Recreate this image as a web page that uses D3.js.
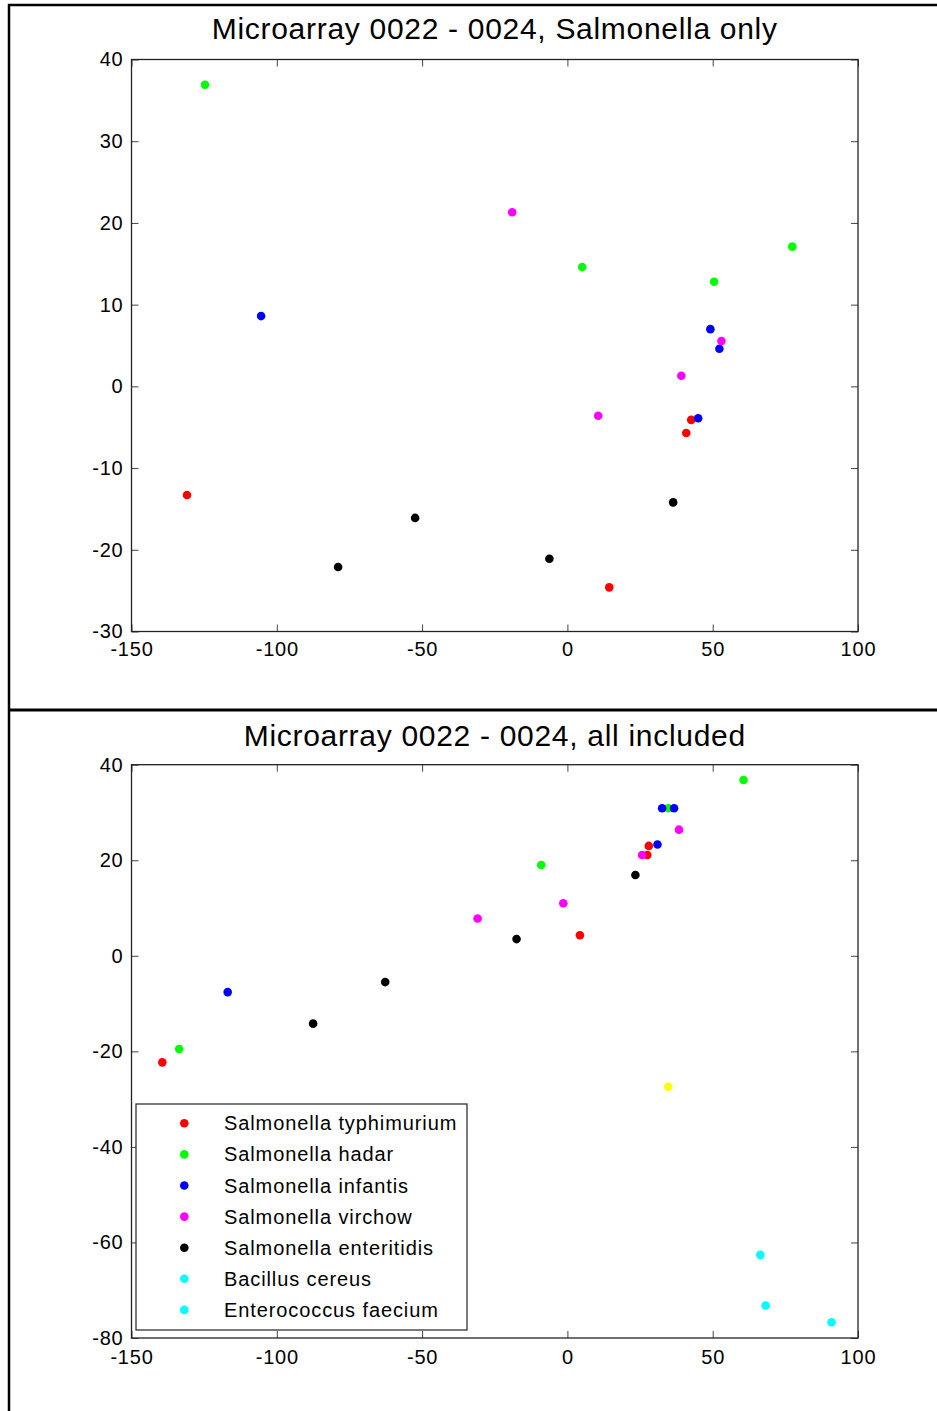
<!DOCTYPE html>
<html>
<head>
<meta charset="utf-8">
<script src="https://cdn.jsdelivr.net/npm/d3@7"></script>
<style>
  body { margin: 0; background: #fff; }
  text { font-family: "Liberation Sans", Arial, sans-serif; fill: #000; }
</style>
</head>
<body>
<svg id="chart" width="937" height="1411"></svg>
<script>
// top panel: Salmonella only
const topRed     = [[-130.9, -13.3], [40.9, -5.7], [42.6, -4.1], [14.4, -24.6]];
const topGreen   = [[-124.7, 36.9], [5.1, 14.6], [50.5, 12.8], [77.4, 17.1]];
const topBlue    = [[-105.4, 8.6], [49.2, 7.0], [52.3, 4.6], [45.0, -3.9]];
const topMagenta = [[-19.0, 21.3], [53.0, 5.55], [39.2, 1.3], [10.6, -3.6]];
const topBlack   = [[-52.4, -16.1], [-78.9, -22.1], [-6.2, -21.1], [36.4, -14.2]];

// bottom panel: all included
const botRed     = [[28.0, 23.0], [27.5, 21.1], [4.3, 4.3], [-139.4, -22.3]];
const botGreen   = [[60.6, 36.8], [34.8, 30.9], [-9.0, 19.0], [-133.6, -19.5]];
const botBlue    = [[32.6, 30.9], [36.7, 30.9], [31.0, 23.3], [-116.9, -7.6]];
const botMagenta = [[38.4, 26.4], [25.7, 21.1], [-1.4, 11.0], [-30.9, 7.8]];
const botBlack   = [[23.4, 16.9], [-17.5, 3.5], [-62.7, -5.5], [-87.5, -14.2]];
const botBacillus = [[66.4, -62.6], [68.2, -73.2]];
const botEntero   = [[90.9, -76.7]];
const botYellow   = [[34.7, -27.4]];

const seriesNames = ['Salmonella typhimurium', 'Salmonella hadar', 'Salmonella infantis',
  'Salmonella virchow', 'Salmonella enteritidis', 'Bacillus cereus', 'Enterococcus faecium'];
const seriesColors = ['#ff0000', '#00ff00', '#0000ff', '#ff00ff', '#000000', '#00ffff', '#00ffff'];

const xTicks = [-150, -100, -50, 0, 50, 100];
const yTicksTop = [-30, -20, -10, 0, 10, 20, 30, 40];
const yTicksBot = [-80, -60, -40, -20, 0, 20, 40];

const svg = d3.select('#chart');

// figure frame
svg.append('line').attr('x1', 8).attr('x2', 937).attr('y1', 5).attr('y2', 5)
  .attr('stroke', '#000').attr('stroke-width', 2.5);
svg.append('line').attr('x1', 9).attr('x2', 9).attr('y1', 4).attr('y2', 1411)
  .attr('stroke', '#000').attr('stroke-width', 2.5);
svg.append('line').attr('x1', 8).attr('x2', 937).attr('y1', 710).attr('y2', 710)
  .attr('stroke', '#000').attr('stroke-width', 3);

function panel({title, titleY, top, bottom, yDomain, yTicks, xPad, series}) {
  const left = 131.5, right = 858;
  const x = d3.scaleLinear().domain([-150, 100]).range([left, right]);
  const y = d3.scaleLinear().domain(yDomain).range([bottom, top]);
  const g = svg.append('g');

  g.append('text')
    .attr('x', (left + right) / 2)
    .attr('y', titleY)
    .attr('text-anchor', 'middle')
    .style('font-size', '30px')
    .style('letter-spacing', '0.7px')
    .text(title);

  const fmt = d => String(d);

  g.append('g').attr('transform', `translate(0,${bottom})`)
    .call(d3.axisBottom(x).tickValues(xTicks).tickSizeInner(-7).tickSizeOuter(0).tickPadding(xPad).tickFormat(fmt));
  g.append('g').attr('transform', `translate(0,${top})`)
    .call(d3.axisTop(x).tickValues(xTicks).tickSizeInner(-7).tickSizeOuter(0).tickFormat(''));
  g.append('g').attr('transform', `translate(${left},0)`)
    .call(d3.axisLeft(y).tickValues(yTicks).tickSizeInner(-7).tickSizeOuter(0).tickPadding(8).tickFormat(fmt));
  g.append('g').attr('transform', `translate(${right},0)`)
    .call(d3.axisRight(y).tickValues(yTicks).tickSizeInner(-7).tickSizeOuter(0).tickFormat(''));

  g.selectAll('.domain').remove();
  g.selectAll('.tick line').attr('stroke', '#444');
  g.selectAll('.tick text')
    .style('font-size', '20px')
    .style('letter-spacing', '0.8px')
    .style('font-family', '"Liberation Sans", Arial, sans-serif')
    .attr('fill', '#000');

  g.append('rect')
    .attr('x', left).attr('y', top)
    .attr('width', right - left).attr('height', bottom - top)
    .attr('fill', 'none').attr('stroke', '#222').attr('stroke-width', 1.3);

  series.forEach(({data, color}) => {
    g.append('g').selectAll('circle')
      .data(data)
      .join('circle')
      .attr('cx', d => x(d[0]))
      .attr('cy', d => y(d[1]))
      .attr('r', 4.3)
      .attr('fill', color);
  });
  return g;
}

panel({
  title: 'Microarray 0022 - 0024, Salmonella only',
  titleY: 39,
  top: 59.5, bottom: 631.5,
  yDomain: [-30, 40], yTicks: yTicksTop, xPad: 10,
  series: [
    {data: topRed, color: seriesColors[0]},
    {data: topGreen, color: seriesColors[1]},
    {data: topBlue, color: seriesColors[2]},
    {data: topMagenta, color: seriesColors[3]},
    {data: topBlack, color: seriesColors[4]}
  ]
});

panel({
  title: 'Microarray 0022 - 0024, all included',
  titleY: 746,
  top: 764.7, bottom: 1338,
  yDomain: [-80, 40], yTicks: yTicksBot, xPad: 12,
  series: [
    {data: botRed, color: seriesColors[0]},
    {data: botGreen, color: seriesColors[1]},
    {data: botBlue, color: seriesColors[2]},
    {data: botMagenta, color: seriesColors[3]},
    {data: botBlack, color: seriesColors[4]},
    {data: botBacillus, color: seriesColors[5]},
    {data: botEntero, color: seriesColors[6]},
    {data: botYellow, color: '#ffff00'}
  ]
});

// legend
const legend = svg.append('g');
legend.append('rect')
  .attr('x', 136).attr('y', 1104)
  .attr('width', 331).attr('height', 226)
  .attr('fill', '#fff').attr('stroke', '#222').attr('stroke-width', 1.2);

const rows = legend.selectAll('g.row')
  .data(seriesNames)
  .join('g')
  .attr('class', 'row')
  .attr('transform', (d, i) => `translate(0,${1123.3 + i * 31.1})`);

rows.append('circle')
  .attr('cx', 184.3).attr('cy', 0).attr('r', 4.3)
  .attr('fill', (d, i) => seriesColors[i]);

rows.append('text')
  .attr('x', 224).attr('y', 0).attr('dy', '0.35em')
  .style('font-size', '20px')
  .style('letter-spacing', '0.9px')
  .text(d => d);
</script>
</body>
</html>
